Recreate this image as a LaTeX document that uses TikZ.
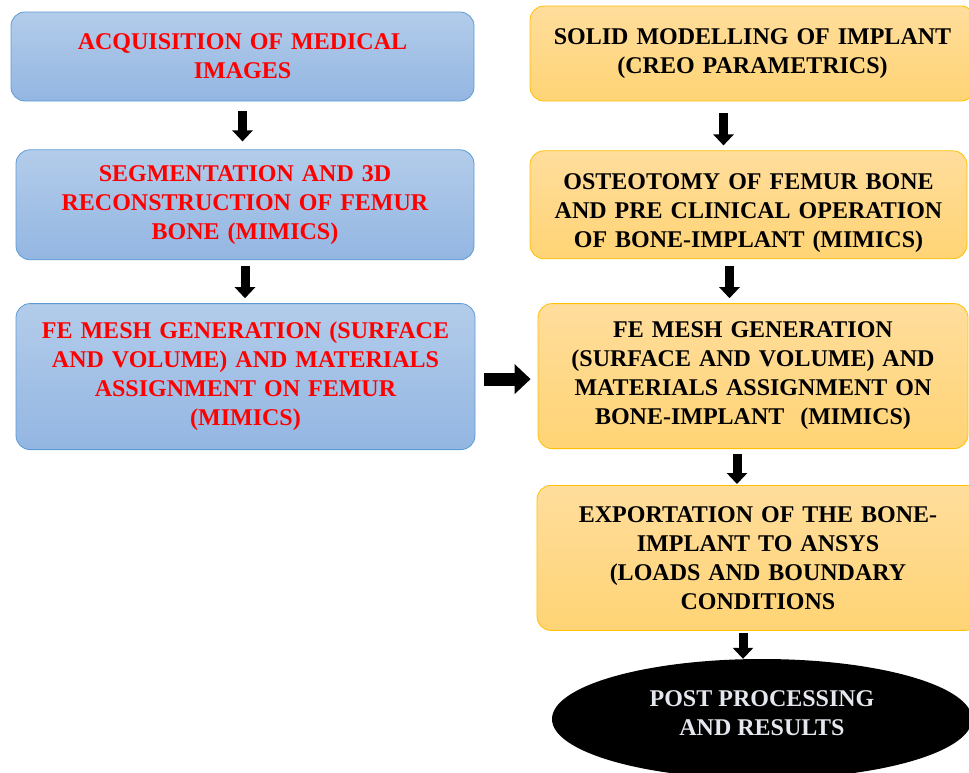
\documentclass[tikz,border=0pt]{standalone}
\usepackage{fontspec}
\setmainfont{Liberation Serif}
\usepackage{tikz}
\usetikzlibrary{positioning}
\usetikzlibrary{shapes.geometric}
\usetikzlibrary{arrows.meta}

\definecolor{bluetop}{HTML}{B3CCEA}
\definecolor{bluebot}{HTML}{93B6E2}
\definecolor{blueline}{HTML}{5B9BD5}
\definecolor{orangetop}{HTML}{FFDD9C}
\definecolor{orangebot}{HTML}{FFD475}
\definecolor{orangeline}{HTML}{FFC000}
\definecolor{redtext}{HTML}{FF0000}
\definecolor{greytext}{HTML}{E4E7EE}

\tikzset{
  boxtext/.style={font=\fontsize{24}{29}\selectfont\bfseries, align=center, inner sep=0pt},
  bluebox/.style={boxtext, draw=blueline, line width=0.8pt, rounded corners=14pt,
    top color=bluetop, bottom color=bluebot, text=redtext},
  orangebox/.style={boxtext, draw=orangeline, line width=0.8pt, rounded corners=14pt,
    top color=orangetop, bottom color=orangebot, text=black},
  endnode/.style={boxtext, ellipse, fill=black, text=greytext,
    minimum width=420pt, minimum height=120pt},
  downarrow/.style={draw=black, line width=9pt, -{Triangle[width=20pt,length=11pt]}},
  sidearrow/.style={draw=black, line width=13pt, -{Triangle[width=29pt,length=16pt]}}
}

\begin{document}
\begin{tikzpicture}
    \useasboundingbox (0pt,0pt) rectangle (969pt,-772pt);
    \clip (0pt,0pt) rectangle (969pt,-772pt);

        % Define nodes
        \node[bluebox, text width=463pt, minimum height=89pt] (a1) at (242.5pt,-56.5pt)
          {ACQUISITION OF MEDICAL\\IMAGES};
        \node[bluebox, text width=458pt, minimum height=110pt, below=48pt of a1, xshift=2.5pt] (a2)
          {SEGMENTATION AND 3D\\RECONSTRUCTION OF FEMUR\\BONE (MIMICS)};
        \node[bluebox, text width=459pt, minimum height=146pt, below=43pt of a2, xshift=0.5pt] (a3)
          {FE MESH GENERATION (SURFACE\\AND VOLUME) AND MATERIALS\\ASSIGNMENT ON FEMUR\\(MIMICS)};
        \node[orangebox, text width=445pt, minimum height=95pt] (b1) at (752.5pt,-53.5pt)
          {SOLID MODELLING OF IMPLANT\\(CREO PARAMETRICS)\\[4pt]};
        \node[orangebox, text width=437pt, minimum height=108pt, below=49pt of b1, xshift=-4pt] (b2)
          {\\[4pt]OSTEOTOMY OF FEMUR BONE\\AND PRE CLINICAL OPERATION\\OF BONE-IMPLANT (MIMICS)};
        \node[orangebox, text width=430pt, minimum height=145pt, below=44pt of b2, xshift=4.5pt] (b3)
          {FE MESH GENERATION\\(SURFACE AND VOLUME) AND\\MATERIALS ASSIGNMENT ON\\BONE-IMPLANT\ \ (MIMICS)};
        \node[orangebox, text width=442pt, minimum height=145pt, below=36pt of b3, xshift=5pt] (b4)
          {EXPORTATION OF THE BONE-\\IMPLANT TO ANSYS\\(LOADS AND BOUNDARY\\CONDITIONS};
        \node[endnode, below=28pt of b4, xshift=4pt] (res)
          {POST PROCESSING\\AND RESULTS\\[-17pt]};

        % Connect the nodes
        \draw[downarrow, shorten <=10pt, shorten >=8pt] (a1.south) -- (a1.south |- a2.north);
        \draw[downarrow, shorten <=6pt, shorten >=5pt] (a2.south) -- (a2.south |- a3.north);
        \draw[downarrow, shorten <=12pt, shorten >=5pt] ([xshift=-29pt]b1.south) -- ([xshift=-29pt]b1.south |- b2.north);
        \draw[downarrow, shorten <=7pt, shorten >=5pt] ([xshift=-19pt]b2.south) -- ([xshift=-19pt]b2.south |- b3.north);
        \draw[downarrow, shorten <=5pt, shorten >=1pt] ([xshift=-16pt]b3.south) -- ([xshift=-16pt]b3.south |- b4.north);
        \draw[downarrow, shorten <=2pt, shorten >=0pt] ([xshift=-15pt]b4.south) -- ([xshift=-15pt]b4.south |- res.north);
        \draw[sidearrow, shorten <=9pt, shorten >=7pt] ([yshift=-2.5pt]a3.east) -- ([yshift=-2.5pt]a3.east -| b3.west);

\end{tikzpicture}
\end{document}
